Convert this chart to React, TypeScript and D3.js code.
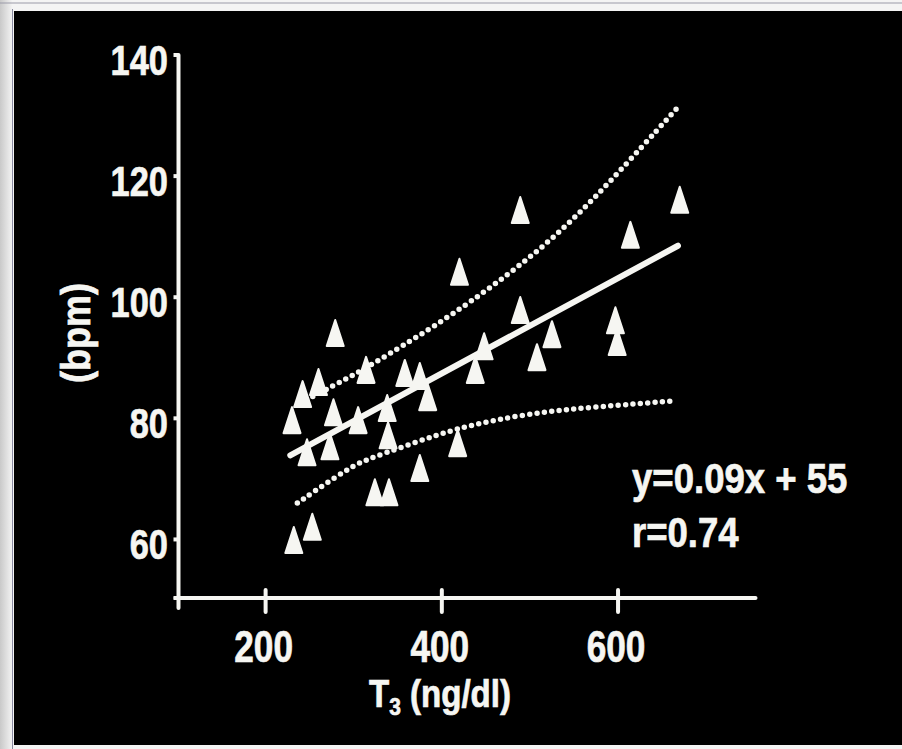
import React from 'react';
import * as d3 from 'd3';

// ---- data ----
const t3Values = [232, 253, 279, 314, 358, 375, 384, 338, 305, 339, 375, 324, 340, 418, 420, 438, 448, 489, 489, 508, 525, 597, 599, 614, 670, 260, 242, 230, 277, 273, 247];
const bpmValues = [59.9, 62.1, 94.1, 88.0, 87.5, 87.0, 83.5, 81.7, 79.7, 77.2, 71.8, 67.8, 67.8, 75.9, 104.2, 88.0, 91.9, 114.4, 97.9, 90.1, 93.9, 96.2, 92.6, 110.3, 116.1, 86.0, 84.0, 79.7, 81.0, 75.4, 74.4];

const fitX = [228, 668];
const fitY = [73.9, 108.5];

const upperX = [239, 296, 352, 432, 523, 591, 668];
const upperY = [82.5, 86.8, 91.6, 99.0, 109.0, 119.0, 131.4];
const lowerX = [236, 296, 318, 387, 424, 500, 576, 665];
const lowerY = [66.0, 72.0, 73.4, 76.9, 78.6, 80.9, 81.9, 82.9];

const xTicks = [200, 400, 600];
const yTicks = [60, 80, 100, 120, 140];
const xLabel = 'T';
const xLabelSub = '3';
const xLabelRest = ' (ng/dl)';
const yLabel = '(bpm)';
const equationText = 'y=0.09x + 55';
const rText = 'r=0.74';

const W = 902;
const H = 749;
const FG = '#f6f6f2';
const FONT = "'Liberation Sans', Arial, Helvetica, sans-serif";

export default function App() {
  const x = d3.scaleLinear().domain([100, 756]).range([177.5, 755.5]);
  const y = d3.scaleLinear().domain([50, 140]).range([600, 55]);

  const axisX = x(100) + 1;
  const axisY = y(50) - 2;

  const pts = (xs: number[], ys: number[]) => xs.map((v, i) => [v, ys[i]] as [number, number]);
  const smooth = d3.line<[number, number]>().x(d => x(d[0])).y(d => y(d[1])).curve(d3.curveBasis);
  const straight = d3.line<[number, number]>().x(d => x(d[0])).y(d => y(d[1]));

  const tri = 'M0,-13 L8.5,13 L-8.5,13 Z';
  const textStyle = { fill: FG, stroke: FG, strokeWidth: 0.7, fontFamily: FONT, fontWeight: 'bold' as const };

  return (
    <svg width={W} height={H} style={{ position: 'fixed', left: 0, top: 0, display: 'block' }}>
      <defs>
        <linearGradient id="edge" x1="0" x2="1" y1="0" y2="0">
          <stop offset="0" stopColor="#c9c9c9" />
          <stop offset="1" stopColor="#f2f2f2" />
        </linearGradient>
      </defs>
      <rect x={0} y={0} width={W} height={H} fill="#f4f4f4" />
      <rect x={0} y={0} width={12} height={H} fill="url(#edge)" />
      <line x1={0} x2={W} y1={3} y2={3} stroke="#9a9aa8" strokeWidth={1} />
      <line x1={12.5} x2={12.5} y1={9} y2={H} stroke="#8a8aa0" strokeWidth={1} />
      <rect x={14} y={11} width={W - 14} height={H - 15} fill="#000" />

      {/* axes */}
      <line x1={axisX} x2={axisX} y1={y(140)} y2={axisY + 10} stroke={FG} strokeWidth={4} strokeLinecap="round" />
      <line x1={axisX - 3} x2={x(756)} y1={axisY} y2={axisY} stroke={FG} strokeWidth={4} strokeLinecap="round" />
      {yTicks.concat([50]).map(t => (
        <line key={'yt' + t} x1={axisX - 5} x2={axisX} y1={t === 50 ? axisY : y(t)} y2={t === 50 ? axisY : y(t)} stroke={FG} strokeWidth={4} />
      ))}
      {xTicks.map(t => (
        <line key={'xt' + t} x1={x(t)} x2={x(t)} y1={axisY - 8} y2={axisY + 14} stroke={FG} strokeWidth={4} strokeLinecap="round" />
      ))}

      {/* tick labels */}
      {yTicks.map(t => (
        <text key={'yl' + t} transform={`translate(168,${y(t) + 20}) scale(0.8,1)`} textAnchor="end"
          style={textStyle} fontSize={43}>{t}</text>
      ))}
      {xTicks.map(t => (
        <text key={'xl' + t} transform={`translate(${x(t) - 2},662) scale(0.8,1)`} textAnchor="middle"
          style={textStyle} fontSize={44}>{t}</text>
      ))}

      {/* axis titles */}
      <text transform="translate(440,707) scale(0.87,1)" textAnchor="middle" style={textStyle} fontSize={38}>
        {xLabel}<tspan fontSize={24} dy={8}>{xLabelSub}</tspan><tspan dy={-8}>{xLabelRest}</tspan>
      </text>
      <text transform="translate(90,333) rotate(-90) scale(0.9,1)" textAnchor="middle" style={textStyle} fontSize={40}>
        {yLabel}
      </text>

      {/* confidence curves */}
      <path d={smooth(pts(upperX, upperY)) || ''} fill="none" stroke={FG} strokeWidth={5.5} strokeLinecap="round" strokeDasharray="0 7.4" />
      <path d={smooth(pts(lowerX, lowerY)) || ''} fill="none" stroke={FG} strokeWidth={5.5} strokeLinecap="round" strokeDasharray="0 7.4" />

      {/* regression line */}
      <path d={straight(pts(fitX, fitY)) || ''} fill="none" stroke={FG} strokeWidth={6} strokeLinecap="round" />

      {/* points */}
      {t3Values.map((v, i) => (
        <path key={'p' + i} d={tri} transform={`translate(${x(v)},${y(bpmValues[i])})`} fill={FG} stroke={FG} strokeWidth={2} strokeLinejoin="round" />
      ))}

      {/* annotation */}
      <text transform="translate(632,493) scale(0.85,1)" style={textStyle} fontSize={43}>{equationText}</text>
      <text transform="translate(632,547) scale(0.85,1)" style={textStyle} fontSize={43}>{rText}</text>
    </svg>
  );
}
